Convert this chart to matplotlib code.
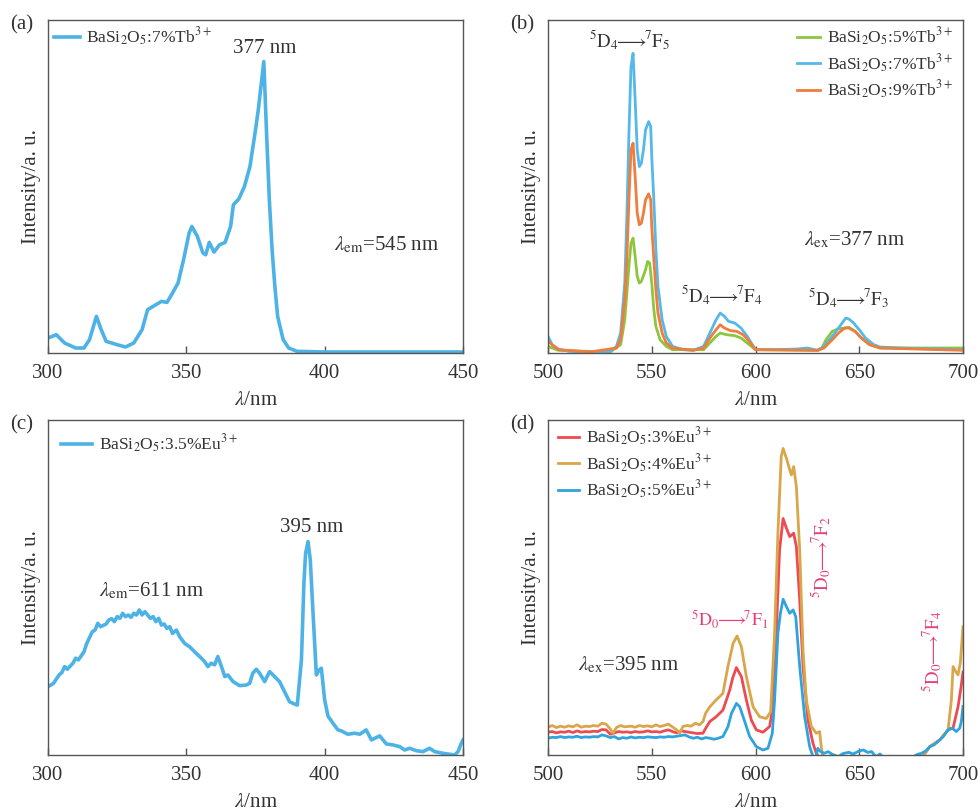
import matplotlib
matplotlib.use("Agg")
import matplotlib.pyplot as plt
import numpy as np

plt.rcParams['font.family'] = ['Liberation Serif', 'DejaVu Serif']
plt.rcParams['mathtext.fontset'] = 'stix'
plt.rcParams['font.size'] = 14

# ---------------- data ----------------
# (a) excitation spectrum BaSi2O5:7%Tb3+ (lambda_em = 545 nm)
a_x = [300, 303, 306, 310, 313, 315, 317.5, 319, 321, 325, 328, 331, 334, 336, 339, 341, 343, 345, 347,
       349, 351, 352, 354, 356, 357, 358.3, 360, 362, 364, 366, 367, 369, 371, 373, 375, 376, 378, 379,
       380, 381, 382, 383, 385, 387, 390, 400, 420, 450]
a_y = [0.045, 0.055, 0.030, 0.015, 0.015, 0.040, 0.110, 0.075, 0.035, 0.025, 0.018, 0.030, 0.070, 0.130,
       0.145, 0.155, 0.152, 0.180, 0.210, 0.280, 0.360, 0.380, 0.350, 0.300, 0.295, 0.332, 0.303, 0.325,
       0.332, 0.380, 0.445, 0.463, 0.500, 0.560, 0.670, 0.730, 0.875, 0.660, 0.460, 0.310, 0.200, 0.110,
       0.040, 0.015, 0.005, 0.003, 0.003, 0.003]

# (b) emission spectra, lambda_ex = 377 nm
b_x_g = [500, 505, 530, 535, 537, 539, 540, 541, 542, 543, 544, 545, 547, 548, 549, 550, 551, 552, 554,
         557, 560, 575, 578, 581, 583, 586, 590, 593, 597, 600, 630, 632, 634, 637, 640, 643, 645, 648,
         651, 655, 660, 700]
b_y_g = [0.020, 0.008, 0.003, 0.025, 0.100, 0.260, 0.330, 0.345, 0.290, 0.230, 0.210, 0.215, 0.250,
         0.275, 0.270, 0.210, 0.130, 0.080, 0.040, 0.020, 0.010, 0.010, 0.030, 0.050, 0.060, 0.055, 0.052,
         0.045, 0.025, 0.010, 0.008, 0.015, 0.040, 0.065, 0.073, 0.075, 0.077, 0.065, 0.045, 0.025, 0.015,
         0.015]
b_x_b = [500, 502, 505, 510, 520, 530, 533, 535, 537, 538, 539, 540, 541, 542, 543, 544, 545, 546, 547,
         548.5, 549.5, 550, 551, 552, 553, 555, 557, 560, 565, 570, 575, 578, 581, 583, 585, 587, 590, 593,
         596, 599, 600, 610, 620, 625, 630, 633, 637, 640, 643.5, 645, 647, 650, 653, 657, 660, 670, 680,
         690, 700]
b_y_b = [0.050, 0.025, 0.012, 0.005, 0.003, 0.005, 0.020, 0.060, 0.210, 0.410, 0.660, 0.860, 0.900,
         0.760, 0.610, 0.560, 0.570, 0.610, 0.670, 0.695, 0.680, 0.590, 0.460, 0.310, 0.200, 0.100, 0.050,
         0.020, 0.010, 0.008, 0.020, 0.060, 0.100, 0.120, 0.110, 0.095, 0.090, 0.075, 0.050, 0.020, 0.010,
         0.010, 0.012, 0.015, 0.008, 0.020, 0.050, 0.075, 0.105, 0.102, 0.092, 0.070, 0.045, 0.025, 0.018,
         0.015, 0.013, 0.012, 0.010]
b_x_o = [500, 505, 520, 533, 535, 537, 538, 539, 540, 541, 542, 543, 544, 545, 546, 547, 548.5, 549.5,
         550, 551, 552, 553, 555, 557, 560, 570, 575, 578, 581, 583, 585, 588, 591, 594, 597, 600, 630,
         633, 637, 640, 643, 645, 648, 651, 655, 660, 700]
b_y_o = [0.035, 0.010, 0.003, 0.015, 0.040, 0.160, 0.280, 0.460, 0.610, 0.630, 0.530, 0.420, 0.385,
         0.390, 0.420, 0.460, 0.478, 0.460, 0.380, 0.280, 0.190, 0.120, 0.060, 0.030, 0.015, 0.008, 0.015,
         0.045, 0.070, 0.085, 0.075, 0.067, 0.065, 0.055, 0.035, 0.010, 0.008, 0.015, 0.040, 0.060, 0.075,
         0.075, 0.065, 0.045, 0.025, 0.015, 0.008]

# (c) excitation spectrum BaSi2O5:3.5%Eu3+ (lambda_em = 611 nm)
c_x = [300, 302, 304, 305, 306, 307, 309, 310, 311, 313, 314, 316, 317, 318, 319, 321, 322, 323, 324,
       325, 326, 327, 328, 329, 330, 331, 332, 333, 334, 335, 336, 337, 338, 339, 340, 341, 342, 343,
       344, 345, 346.4, 347.6, 349.4, 351.2, 353, 354.8, 356.6, 357.8, 359, 360.2, 361.4, 362.7, 363.9,
       365, 366.9, 369.3, 371.7, 372.9, 374, 375.3, 376.5, 378.3, 380.1, 381.9, 383.7, 385.5, 387.3,
       388.6, 390.1, 391.6, 392.5, 393.1, 394, 394.8, 395.8, 397, 398, 398.8, 400, 401.2, 403, 404.8,
       406, 408.4, 410.8, 412.7, 415, 416.9, 419.9, 422.3, 424.7, 427.1, 428.9, 430.7, 433.1, 435.5,
       437.9, 439.8, 442.8, 447, 448.2, 449.4, 450]
c_y = [0.204, 0.214, 0.239, 0.246, 0.264, 0.256, 0.274, 0.289, 0.284, 0.308, 0.333, 0.368, 0.373,
       0.393, 0.383, 0.391, 0.403, 0.407, 0.398, 0.413, 0.408, 0.423, 0.413, 0.418, 0.411, 0.423, 0.418,
       0.433, 0.418, 0.428, 0.418, 0.408, 0.413, 0.398, 0.408, 0.388, 0.391, 0.378, 0.383, 0.363, 0.373,
       0.353, 0.333, 0.323, 0.308, 0.294, 0.279, 0.264, 0.274, 0.269, 0.294, 0.264, 0.234, 0.239, 0.219,
       0.207, 0.209, 0.214, 0.244, 0.256, 0.244, 0.219, 0.249, 0.234, 0.219, 0.189, 0.159, 0.154, 0.149,
       0.284, 0.512, 0.602, 0.637, 0.582, 0.423, 0.239, 0.254, 0.259, 0.164, 0.116, 0.095, 0.075, 0.072,
       0.062, 0.065, 0.062, 0.075, 0.045, 0.057, 0.033, 0.030, 0.025, 0.015, 0.020, 0.013, 0.010, 0.020,
       0.010, 0.005, 0.000, 0.010, 0.035, 0.045]

# (d) emission spectra, lambda_ex = 395 nm
d_x_r = [500, 502, 504, 506, 508, 510, 512, 514, 516, 518, 520, 522, 524, 526, 528, 530, 532, 534, 536,
         538, 540, 542, 544, 546, 548, 550, 552, 554, 556, 558, 560, 562, 564, 566, 568, 570, 572, 574.7,
         576, 578, 581, 584.3, 587.6, 589, 590.8, 593.2, 595.6, 598, 600.4, 603.6, 606.8, 608.4, 610,
         611.6, 613.3, 614.9, 616.5, 618.4, 619.7, 621.3, 622.9, 625.3, 627.7, 629.3, 631, 680, 684,
         688.8, 692.8, 695.2, 697.6, 699, 700]
d_y_r = [0.068, 0.070, 0.066, 0.069, 0.068, 0.071, 0.067, 0.072, 0.068, 0.070, 0.069, 0.071, 0.070,
         0.076, 0.075, 0.062, 0.066, 0.070, 0.068, 0.069, 0.067, 0.070, 0.068, 0.069, 0.072, 0.069, 0.070,
         0.068, 0.072, 0.075, 0.070, 0.066, 0.072, 0.070, 0.068, 0.066, 0.064, 0.065, 0.080, 0.100, 0.114,
         0.134, 0.194, 0.230, 0.261, 0.234, 0.164, 0.104, 0.075, 0.068, 0.085, 0.144, 0.363, 0.612, 0.706,
         0.677, 0.652, 0.662, 0.622, 0.463, 0.264, 0.104, 0.035, 0.005, -0.010, -0.010, 0.025, 0.045,
         0.075, 0.080, 0.144, 0.200, 0.248]
d_x_o = [500, 502, 504, 506, 508, 510, 512, 514, 516, 518, 520, 522, 524, 526, 528, 530, 531.3, 533, 535,
         537, 540, 542, 544, 546, 548, 550, 552, 554, 556, 558, 560, 562, 563.5, 565, 567, 569, 571, 573,
         574.7, 576, 578, 581, 584.3, 586.7, 589.2, 591.1, 593.2, 595.6, 598.8, 602, 605.2, 607.3, 609.2,
         610.8, 612.4, 613.3, 614.9, 616.5, 617.3, 618.4, 619.7, 621.3, 622.9, 624.5, 626.9, 629.3, 630.9,
         631.7, 632.5, 680, 684, 688.8, 692.8, 694.4, 695.2, 696.5, 697.6, 698.7, 700]
d_y_o = [0.083, 0.088, 0.082, 0.086, 0.083, 0.087, 0.084, 0.090, 0.083, 0.086, 0.085, 0.088, 0.086,
         0.095, 0.092, 0.078, 0.065, 0.082, 0.088, 0.084, 0.086, 0.083, 0.088, 0.085, 0.087, 0.084, 0.090,
         0.085, 0.088, 0.092, 0.084, 0.075, 0.065, 0.085, 0.088, 0.086, 0.095, 0.090, 0.100, 0.125, 0.144,
         0.164, 0.184, 0.264, 0.333, 0.355, 0.323, 0.234, 0.144, 0.114, 0.109, 0.129, 0.363, 0.662, 0.891,
         0.915, 0.886, 0.851, 0.836, 0.861, 0.801, 0.612, 0.313, 0.164, 0.085, 0.065, 0.070, 0.025, -0.010,
         -0.010, 0.025, 0.045, 0.075, 0.164, 0.264, 0.249, 0.239, 0.274, 0.383]
d_x_b = [500, 502, 504, 506, 508, 510, 512, 514, 516, 518, 520, 522, 524, 526, 528, 530, 532, 534, 536,
         538, 540, 542, 544, 546, 548, 550, 552, 554, 556, 558, 560, 562, 564, 566, 568, 570, 572, 574,
         576, 578, 580, 582, 584.3, 586.7, 588.4, 590.8, 592.4, 594.8, 597.2, 600.4, 603.6, 606, 608.1,
         609.2, 610.8, 612, 613.3, 614.9, 616.5, 618.1, 619.4, 621.3, 623.7, 626.1, 627.7, 629, 630, 631,
         633, 635, 637, 640, 642, 645, 647, 650, 652, 654, 656, 658, 660, 662, 675, 678, 680, 682, 684,
         686, 688.8, 690.5, 692.8, 694, 695.2, 696.8, 698.4, 699.2, 700]
d_y_b = [0.050, 0.053, 0.052, 0.055, 0.052, 0.054, 0.053, 0.056, 0.052, 0.054, 0.053, 0.055, 0.054,
         0.060, 0.057, 0.052, 0.055, 0.048, 0.052, 0.050, 0.054, 0.051, 0.053, 0.052, 0.054, 0.053, 0.052,
         0.054, 0.053, 0.055, 0.054, 0.056, 0.058, 0.060, 0.054, 0.050, 0.053, 0.048, 0.052, 0.050, 0.047,
         0.050, 0.055, 0.084, 0.124, 0.154, 0.144, 0.100, 0.055, 0.025, 0.015, 0.020, 0.065, 0.164, 0.363,
         0.423, 0.465, 0.443, 0.423, 0.433, 0.413, 0.264, 0.114, 0.025, -0.005, -0.010, 0.020, 0.012,
         0.005, 0.010, 0.002, -0.005, 0.004, 0.008, 0.003, 0.012, 0.015, 0.008, 0.010, -0.005, 0.003,
         -0.010, -0.010, 0.002, 0.005, 0.012, 0.025, 0.030, 0.045, 0.055, 0.075, 0.080, 0.078, 0.070,
         0.080, 0.100, 0.145]

# ---------------- styles ----------------
TXT = '#333333'
FRAME = '#555555'
C_A = '#4DB3E6'
C_G, C_B, C_O = '#8CC63F', '#55B8E8', '#EE7D3E'
C_R, C_Y, C_BL = '#EE4A50', '#D9A64A', '#2FA3DE'
PINK = '#E83E78'

fig = plt.figure(figsize=(9.8, 8.11), dpi=100)
W = 415 / 980
H_top = 333 / 811
H_bot = 335 / 811
axa = fig.add_axes([48 / 980, 1 - 353 / 811, W, H_top])
axb = fig.add_axes([548 / 980, 1 - 353 / 811, W, H_top])
axc = fig.add_axes([48 / 980, 1 - 755 / 811, W, H_bot])
axd = fig.add_axes([548 / 980, 1 - 755 / 811, W, H_bot])


def style(ax, xlim, ticks, label):
    ax.set_xlim(*xlim)
    ax.set_ylim(0, 1)
    ax.set_xticks(ticks)
    ax.set_yticks([])
    ax.tick_params(axis='x', direction='in', length=5, width=1, colors=FRAME,
                   labelcolor=TXT, labelsize=15, pad=8)
    for s in ax.spines.values():
        s.set_color(FRAME)
        s.set_linewidth(1.0)
    ax.set_xlabel(r'$\lambda$/nm', fontsize=15, color=TXT, labelpad=6)
    ax.set_ylabel('Intensity/a. u.', fontsize=15, color=TXT, labelpad=5)
    ax.text(-0.092, 0.985, label, transform=ax.transAxes, fontsize=15, color=TXT,
            ha='left', va='center')


lab = lambda s: r'BaSi$_2$O$_5$:' + s


def trans(lo, n):
    return (r'${}^5\mathrm{D}_' + lo + r'\!\!\longrightarrow\!\!{}^7\mathrm{F}_' + n + '$')


FS_LEG = 12.5

# (a)
axa.plot(a_x, a_y, color=C_A, lw=2.6, label=lab(r'7%Tb$^{3+}$'))
style(axa, (300, 450), [300, 350, 400, 450], '(a)')
axa.legend(loc='upper left', bbox_to_anchor=(-0.01, 1.015), frameon=False, fontsize=FS_LEG,
           handlelength=1.5, handletextpad=0.3, borderaxespad=0.2, labelcolor=TXT)
axa.text(378.5, 0.915, '377 nm', fontsize=15, color=TXT, ha='center', va='center')
axa.text(403.5, 0.325, r'$\lambda_{\rm em}$=545 nm', fontsize=15, color=TXT, ha='left', va='center')

# (b)
axb.plot(b_x_g, b_y_g, color=C_G, lw=2.0, label=lab(r'5%Tb$^{3+}$'))
axb.plot(b_x_b, b_y_b, color=C_B, lw=2.0, label=lab(r'7%Tb$^{3+}$'))
axb.plot(b_x_o, b_y_o, color=C_O, lw=2.0, label=lab(r'9%Tb$^{3+}$'))
style(axb, (500, 700), [500, 550, 600, 650, 700], '(b)')
axb.legend(loc='upper right', bbox_to_anchor=(1.0, 1.015), frameon=False, fontsize=FS_LEG,
           handlelength=1.3, handletextpad=0.4, borderaxespad=0.2, labelspacing=0.25,
           labelcolor=TXT)
axb.text(539.5, 0.94, trans('4', '5'), fontsize=13.5, color=TXT, ha='center', va='center')
axb.text(584, 0.175, trans('4', '4'), fontsize=13.5, color=TXT, ha='center', va='center')
axb.text(645, 0.165, trans('4', '3'), fontsize=13.5, color=TXT, ha='center', va='center')
axb.text(623.5, 0.34, r'$\lambda_{\rm ex}$=377 nm', fontsize=15, color=TXT, ha='left', va='center')

# (c)
axc.plot(c_x, c_y, color=C_A, lw=2.6, label=lab(r'3.5%Eu$^{3+}$'))
style(axc, (300, 450), [300, 350, 400, 450], '(c)')
axc.legend(loc='upper left', bbox_to_anchor=(0.0, 1.0), frameon=False, fontsize=FS_LEG,
           handlelength=1.8, handletextpad=0.4, borderaxespad=0.35, labelcolor=TXT)
axc.text(395.2, 0.68, '395 nm', fontsize=15, color=TXT, ha='center', va='center')
axc.text(318.5, 0.49, r'$\lambda_{\rm em}$=611 nm', fontsize=15, color=TXT, ha='left', va='center')

# (d)
axd.plot(d_x_r, d_y_r, color=C_R, lw=2.0, label=lab(r'3%Eu$^{3+}$'))
axd.plot(d_x_o, d_y_o, color=C_Y, lw=2.0, label=lab(r'4%Eu$^{3+}$'))
axd.plot(d_x_b, d_y_b, color=C_BL, lw=2.0, label=lab(r'5%Eu$^{3+}$'))
style(axd, (500, 700), [500, 550, 600, 650, 700], '(d)')
axd.legend(loc='upper left', bbox_to_anchor=(0.0, 1.015), frameon=False, fontsize=FS_LEG,
           handlelength=1.2, handletextpad=0.4, borderaxespad=0.2, labelspacing=0.25,
           labelcolor=TXT)
axd.text(587.5, 0.405, trans('0', '1'), fontsize=13, color=PINK, ha='center', va='center')
axd.text(631.5, 0.59, trans('0', '2'), fontsize=13.5, color=PINK, ha='center', va='center',
         rotation=90)
axd.text(685, 0.31, trans('0', '4'), fontsize=13.5, color=PINK, ha='center', va='center',
         rotation=90)
axd.text(514.5, 0.268, r'$\lambda_{\rm ex}$=395 nm', fontsize=15, color=TXT, ha='left', va='center')

fig.savefig('out.png', dpi=100)
